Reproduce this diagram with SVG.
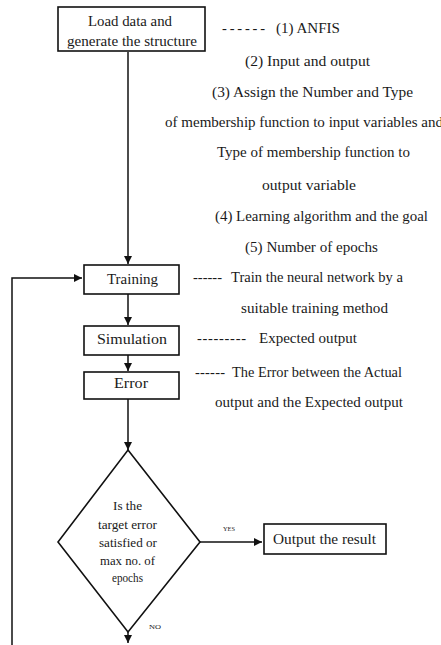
<svg xmlns="http://www.w3.org/2000/svg" width="441" height="645" viewBox="0 0 441 645" font-family="'Liberation Serif', 'DejaVu Serif', 'Times New Roman', serif">
<defs>
<style>
text{fill:#1a1a1a;}
.t{font-size:14.5px;}
.b{font-size:15px;text-anchor:middle;}
.d{font-size:12px;text-anchor:middle;}
.s{font-size:7px;}
.box{fill:#fff;stroke:#111;stroke-width:1.6;}
.ln{fill:none;stroke:#111;stroke-width:1.5;}
</style>
<marker id="ah" viewBox="0 0 10 10" refX="10" refY="5" markerWidth="8" markerHeight="8" markerUnits="userSpaceOnUse" orient="auto">
<path d="M0,0 L10,5 L0,10 z" fill="#111"/>
</marker>
</defs>
<rect width="441" height="645" fill="#fff"/>
<g id="connectors">
<line class="ln" x1="128" y1="52" x2="128" y2="264" marker-end="url(#ah)"/>
<line class="ln" x1="128" y1="294" x2="128" y2="325" marker-end="url(#ah)"/>
<line class="ln" x1="128" y1="355" x2="128" y2="371" marker-end="url(#ah)"/>
<line class="ln" x1="128" y1="399" x2="128" y2="450" marker-end="url(#ah)"/>
<line class="ln" x1="200" y1="542" x2="262" y2="542" marker-end="url(#ah)"/>
<line class="ln" x1="128" y1="632" x2="128" y2="643" marker-end="url(#ah)"/>
<polyline class="ln" points="12,645 12,278 82,278" marker-end="url(#ah)"/>
<text class="s" x="223" y="531" font-family="'Liberation Serif', serif" textLength="12" lengthAdjust="spacingAndGlyphs">YES</text>
<text class="s" x="149" y="629" font-family="'Liberation Serif', serif" textLength="12" lengthAdjust="spacingAndGlyphs">NO</text>
</g>
<g id="load">
<rect class="box" x="58" y="7" width="147" height="44"/>
<text class="b" x="130" y="26" font-family="'Liberation Serif', serif" textLength="84" lengthAdjust="spacingAndGlyphs">Load data and</text>
<text class="b" x="132" y="46" font-family="'Liberation Serif', serif" textLength="130" lengthAdjust="spacingAndGlyphs">generate the structure</text>
</g>
<g id="training">
<rect class="box" x="84" y="265" width="95" height="29"/>
<text class="b" x="132.5" y="284" font-family="'Liberation Serif', serif" textLength="51" lengthAdjust="spacingAndGlyphs">Training</text>
</g>
<g id="simulation">
<rect class="box" x="84" y="326" width="95" height="29"/>
<text class="b" x="132" y="344" font-family="'Liberation Serif', serif" textLength="70" lengthAdjust="spacingAndGlyphs">Simulation</text>
</g>
<g id="error">
<rect class="box" x="84" y="372" width="95" height="27"/>
<text class="b" x="131" y="388" font-family="'Liberation Serif', serif" textLength="34" lengthAdjust="spacingAndGlyphs">Error</text>
</g>
<g id="decision">
<polygon class="box" points="128,450 200,542 128,632 58,542"/>
<g font-family="'Liberation Serif', serif">
<text class="d" x="127.5" y="510" textLength="29" lengthAdjust="spacingAndGlyphs">Is the</text>
<text class="d" x="127.5" y="529" textLength="59" lengthAdjust="spacingAndGlyphs">target error</text>
<text class="d" x="128" y="547" textLength="58" lengthAdjust="spacingAndGlyphs">satisfied or</text>
<text class="d" x="127.5" y="565" textLength="55" lengthAdjust="spacingAndGlyphs">max no. of</text>
<text class="d" x="127.5" y="582" textLength="31" lengthAdjust="spacingAndGlyphs">epochs</text>
</g>
</g>
<g id="output">
<rect class="box" x="264" y="524" width="122" height="30"/>
<text class="b" x="324.5" y="544" font-family="'Liberation Serif', serif" textLength="103" lengthAdjust="spacingAndGlyphs">Output the result</text>
</g>
<g id="notes" font-family="'Liberation Serif', serif">
<text class="t" x="222" y="33" textLength="43" lengthAdjust="spacing">------</text>
<text class="t" x="276" y="33" textLength="64" lengthAdjust="spacingAndGlyphs">(1) ANFIS</text>
<text class="t" x="245" y="66" textLength="125" lengthAdjust="spacingAndGlyphs">(2) Input and output</text>
<text class="t" x="212" y="97" textLength="201" lengthAdjust="spacingAndGlyphs">(3) Assign the Number and Type</text>
<text class="t" x="165" y="127" textLength="278" lengthAdjust="spacingAndGlyphs">of membership function to input variables and</text>
<text class="t" x="217" y="157" textLength="193" lengthAdjust="spacingAndGlyphs">Type of membership function to</text>
<text class="t" x="262" y="190" textLength="94" lengthAdjust="spacingAndGlyphs">output variable</text>
<text class="t" x="215" y="221" textLength="213" lengthAdjust="spacingAndGlyphs">(4) Learning algorithm and the goal</text>
<text class="t" x="245" y="252" textLength="133" lengthAdjust="spacingAndGlyphs">(5) Number of epochs</text>
<text class="t" x="193" y="282" textLength="29" lengthAdjust="spacing">------</text>
<text class="t" x="231" y="282" textLength="172" lengthAdjust="spacingAndGlyphs">Train the neural network by a</text>
<text class="t" x="241" y="313" textLength="147" lengthAdjust="spacingAndGlyphs">suitable training method</text>
<text class="t" x="197" y="343" textLength="49" lengthAdjust="spacing">---------</text>
<text class="t" x="259" y="343" textLength="98" lengthAdjust="spacingAndGlyphs">Expected output</text>
<text class="t" x="195" y="377" textLength="30" lengthAdjust="spacing">------</text>
<text class="t" x="232" y="377" textLength="170" lengthAdjust="spacingAndGlyphs">The Error between the Actual</text>
<text class="t" x="215" y="407" textLength="188" lengthAdjust="spacingAndGlyphs">output and the Expected output</text>
</g>
</svg>
